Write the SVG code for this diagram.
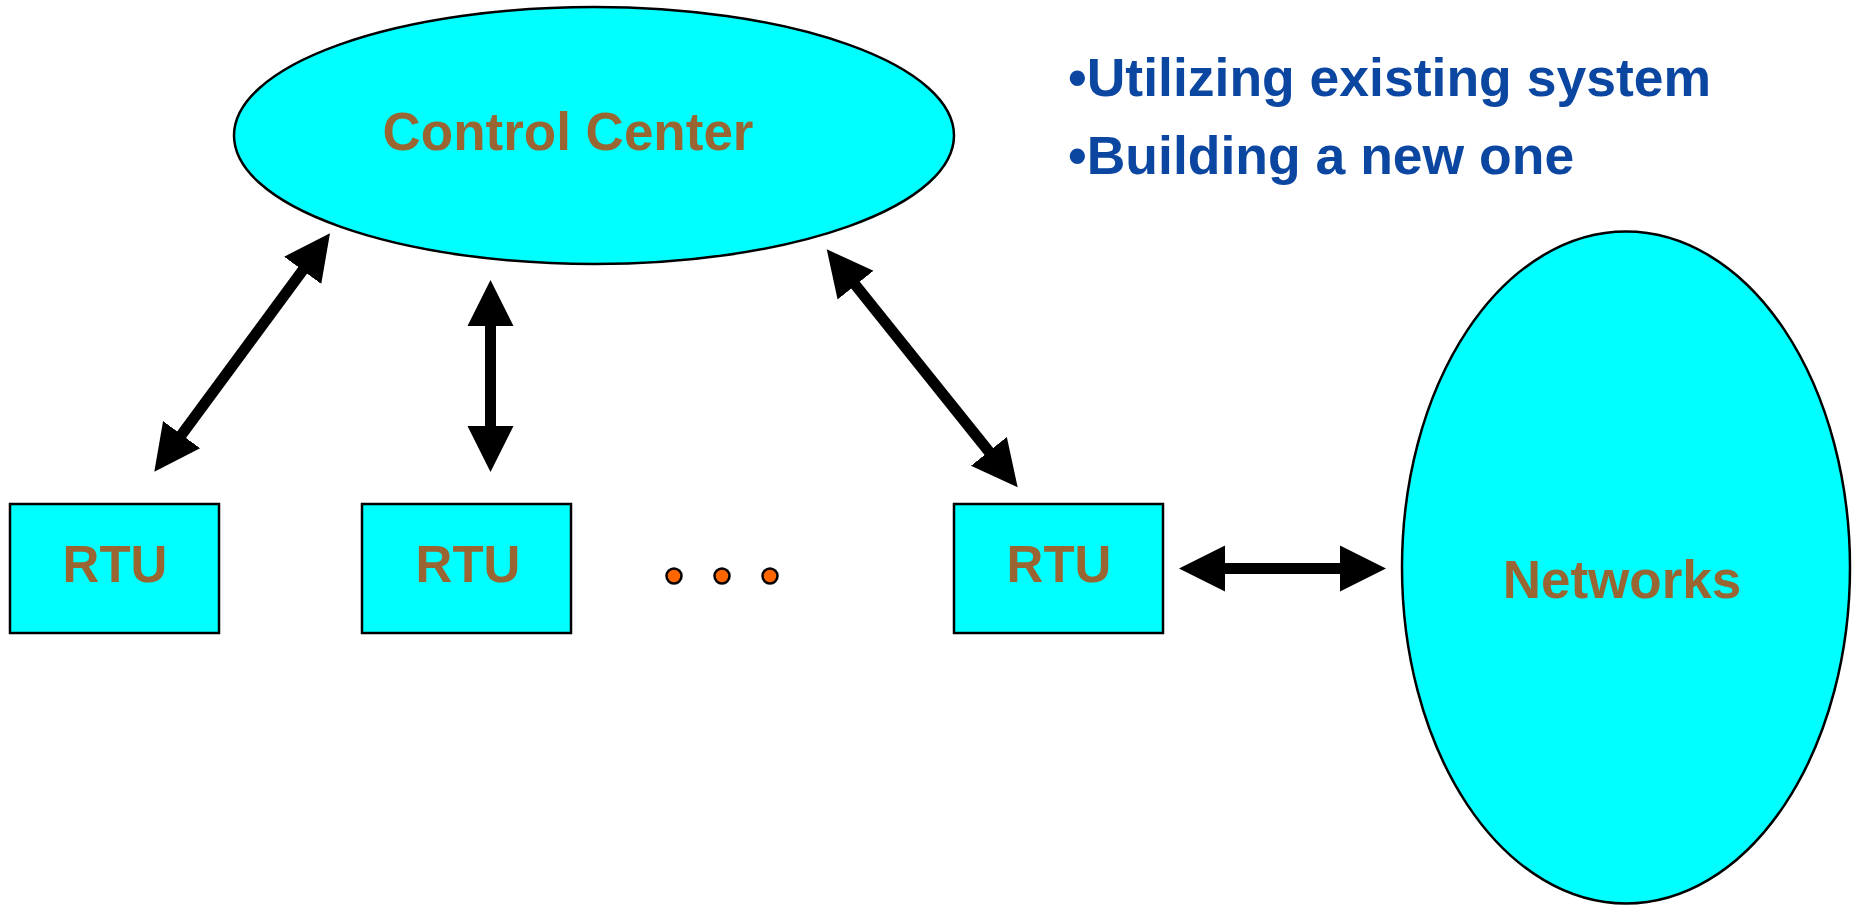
<svg xmlns="http://www.w3.org/2000/svg" width="1854" height="905" viewBox="0 0 1854 905">
  <style>
    .shape { fill: #00FFFF; stroke: #000; stroke-width: 2.5; }
    .label { font-family: "Liberation Sans", Arial, sans-serif; font-weight: bold; fill: #996633; text-anchor: middle; }
    .bullet { font-family: "Liberation Sans", Arial, sans-serif; font-weight: bold; fill: #0B46A0; font-size: 53.5px; }
    .link { stroke: #000; stroke-width: 11; fill: none; marker-start: url(#head); marker-end: url(#head); }
    .dot { fill: #FF6600; stroke: #000; stroke-width: 2.5; }
  </style>
  <defs>
    <marker id="head" markerUnits="userSpaceOnUse" markerWidth="50" markerHeight="50" viewBox="0 -25 50 50" refX="1" refY="0" orient="auto-start-reverse">
      <path d="M0,-23 L46,0 L0,23 Z" fill="#000"/>
    </marker>
  </defs>
  <rect width="1854" height="905" fill="#fff"/>

  <g id="control-center">
    <ellipse class="shape" cx="594" cy="135.5" rx="360" ry="128.5"/>
    <text class="label" x="568" y="150" font-size="53">Control Center</text>
  </g>

  <g id="rtu-1">
    <rect class="shape" x="10" y="504" width="209" height="129"/>
    <text class="label" x="115" y="582" font-size="51">RTU</text>
  </g>

  <g id="rtu-2">
    <rect class="shape" x="362" y="504" width="209" height="129"/>
    <text class="label" x="468" y="582" font-size="51">RTU</text>
  </g>

  <g id="ellipsis">
    <circle class="dot" cx="674" cy="576" r="7.5"/>
    <circle class="dot" cx="722" cy="576" r="7.5"/>
    <circle class="dot" cx="770" cy="576" r="7.5"/>
  </g>

  <g id="rtu-3">
    <rect class="shape" x="954" y="504" width="209" height="129"/>
    <text class="label" x="1059" y="582" font-size="51">RTU</text>
  </g>

  <g id="networks">
    <ellipse class="shape" cx="1626" cy="567.5" rx="224" ry="336"/>
    <text class="label" x="1622" y="598" font-size="53">Networks</text>
  </g>

  <g id="notes">
    <text class="bullet" x="1068" y="96">•Utilizing existing system</text>
    <text class="bullet" x="1068" y="174">•Building a new one</text>
  </g>

  <g id="connectors">
    <line class="link" x1="303.3" y1="269.5" x2="181" y2="435.5"/>
    <line class="link" x1="490.5" y1="325" x2="490.5" y2="427"/>
    <line class="link" x1="854.9" y1="284.4" x2="989.5" y2="452.2"/>
    <line class="link" x1="1224" y1="568.5" x2="1341" y2="568.5"/>
  </g>
</svg>
